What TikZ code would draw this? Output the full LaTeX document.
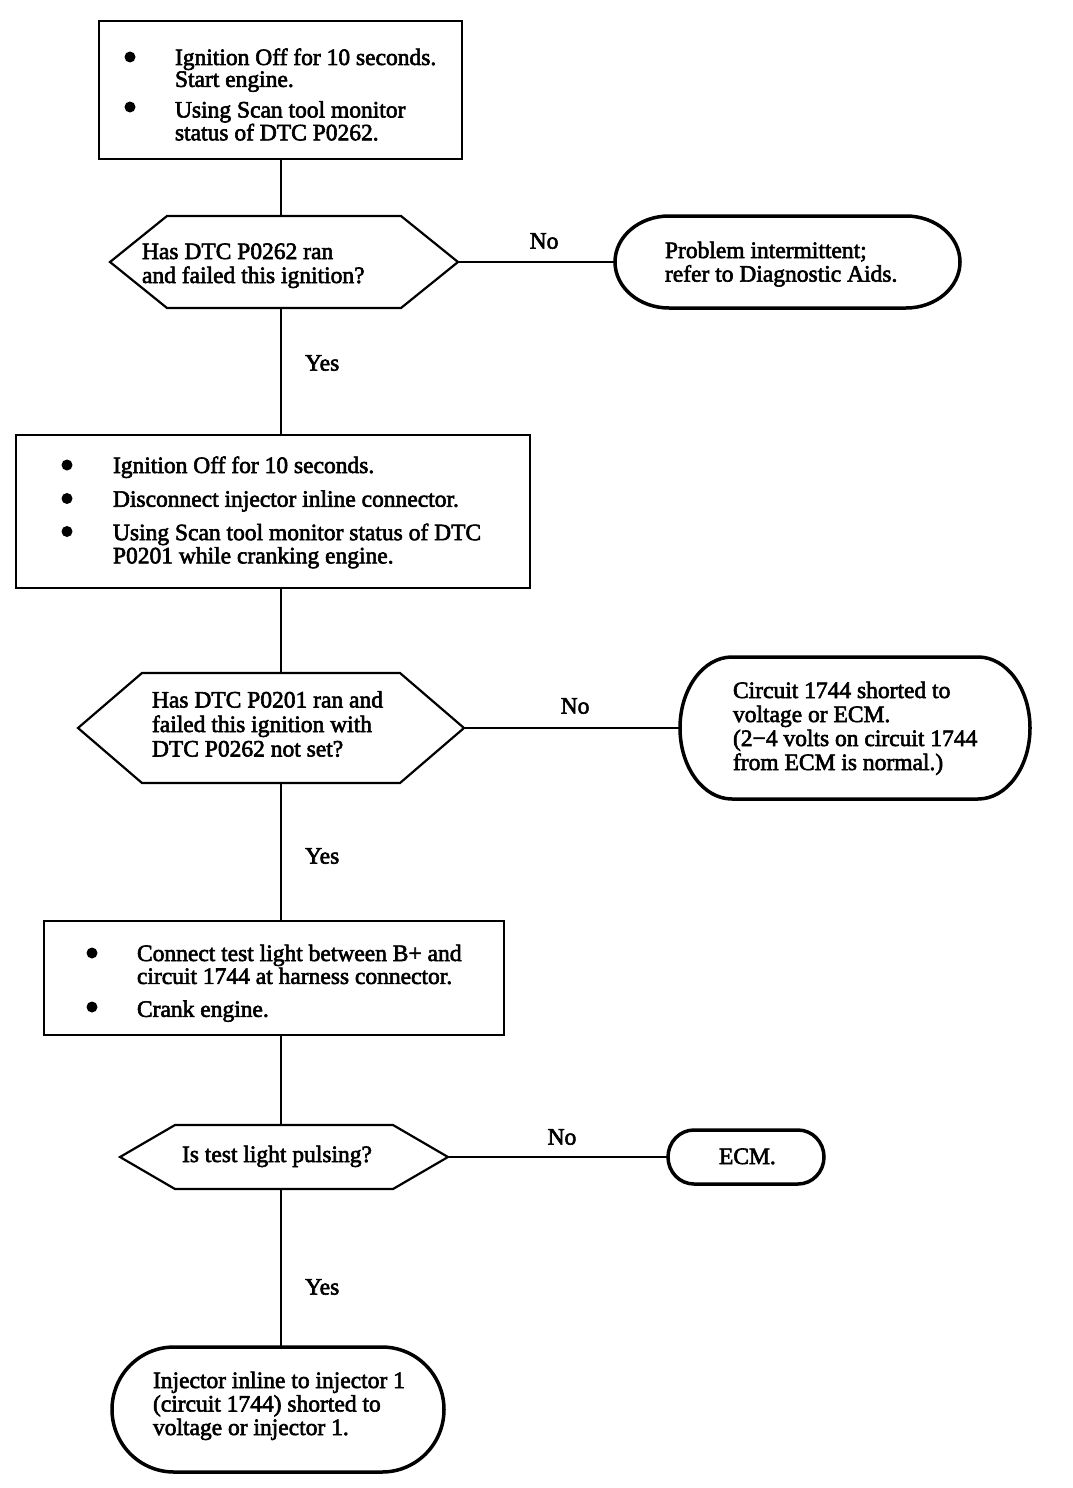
\documentclass[tikz,border=0pt]{standalone}
\usepackage{fontspec}
\setmainfont{Liberation Serif}[FakeBold=2.5]
\usetikzlibrary{calc}
\newcommand\ftxt[5]{\makebox[#1pt][l]{\hspace*{#2pt}\raisebox{#3pt}[0pt][0pt]{\fontsize{23.5}{#4}\selectfont\begin{tabular}[t]{@{}l@{}}#5\end{tabular}}}}
\newcommand\drawhex[2]{\draw[decline] (#1.west) -- ([xshift=#2pt]#1.north west) -- ([xshift=-#2pt]#1.north east) -- (#1.east) -- ([xshift=-#2pt]#1.south east) -- ([xshift=#2pt]#1.south west) -- cycle;}
\newcommand\drawterm[3]{\draw[termline] ([xshift=#2pt]#1.north west) -- ([xshift=-#2pt]#1.north east) arc[start angle=90, end angle=-90, x radius=#2pt, y radius=#3pt] -- ([xshift=#2pt]#1.south west) arc[start angle=270, end angle=90, x radius=#2pt, y radius=#3pt] -- cycle;}
\tikzset{
  shapebase/.style={rectangle, inner sep=0pt, outer sep=0pt, font=\fontsize{23.5}{24}\selectfont},
  procbox/.style={shapebase, draw, line width=2.2pt},
  decbox/.style={shapebase},
  termbox/.style={shapebase},
  decline/.style={line width=2.2pt, line join=miter},
  termline/.style={line width=3.5pt},
  conn/.style={line width=2.2pt},
  dot/.style={circle, fill, inner sep=0pt, minimum size=11pt},
  lab/.style={inner sep=0pt, font=\fontsize{23.5}{24}\selectfont},
}
\begin{document}
\begin{tikzpicture}[x=1pt, y=-1pt]
\fill[white] (0,0) rectangle (1072,1488);
\useasboundingbox (0,0) rectangle (1072,1488);

% step 1
\node[procbox, minimum width=363pt, minimum height=138pt] (box1) at (280.5,90)
  {\ftxt{363}{76}{25}{21}{Ignition Off for 10 seconds.\\ Start engine.\\[8pt] Using Scan tool monitor\\ status of DTC P0262.}};
\node[dot] (b1a) at (130,57) {};
\node[dot] (b1b) at (130,107) {};

% decision 1
\node[decbox, minimum width=348pt, minimum height=92pt] (d1) at (284,262)
  {\ftxt{348}{32}{3}{24}{Has DTC P0262 ran\\ and failed this ignition?}};
\drawhex{d1}{57}

\node[termbox, minimum width=345pt, minimum height=92pt] (t1) at (787.5,262)
  {\ftxt{345}{50}{4}{23.5}{Problem intermittent;\\ refer to Diagnostic Aids.}};
\drawterm{t1}{54}{46}

% step 2
\node[procbox, minimum width=514pt, minimum height=153pt] (box2) at (273,511.5)
  {\ftxt{514}{97}{38.5}{23}{Ignition Off for 10 seconds.\\[10.5pt] Disconnect injector inline connector.\\[10pt] Using Scan tool monitor status of DTC\\ P0201 while cranking engine.}};
\node[dot] (b2a) at (67,465) {};
\node[dot] (b2b) at (67,498.5) {};
\node[dot] (b2c) at (67,531.5) {};

% decision 2
\node[decbox, minimum width=386pt, minimum height=110pt] (d2) at (271,728)
  {\ftxt{386}{74}{20.5}{24.5}{Has DTC P0201 ran and\\ failed this ignition with\\ DTC P0262 not set?}};
\drawhex{d2}{64}

\node[termbox, minimum width=350pt, minimum height=142pt] (t2) at (855,728)
  {\ftxt{350}{53}{30}{24}{Circuit 1744 shorted to\\ voltage or ECM.\\ (2−4 volts on circuit 1744\\ from ECM is normal.)}};
\drawterm{t2}{52}{71}

% step 3
\node[procbox, minimum width=460pt, minimum height=114pt] (box3) at (274,978)
  {\ftxt{460}{93}{17}{22}{Connect test light between B+ and\\ circuit 1744 at harness connector.\\[10pt] Crank engine.}};
\node[dot] (b3a) at (92,953) {};
\node[dot] (b3b) at (92,1007) {};

% decision 3
\node[decbox, minimum width=328pt, minimum height=64pt] (d3) at (284,1157)
  {\ftxt{328}{62}{-5}{24}{Is test light pulsing?}};
\drawhex{d3}{55}

\node[termbox, minimum width=156pt, minimum height=54pt] (t3) at (746,1157)
  {\ftxt{156}{51}{-7}{24}{ECM.}};
\drawterm{t3}{26}{27}

\node[termbox, minimum width=332pt, minimum height=125pt] (t4) at (278,1409.5)
  {\ftxt{332}{41}{21.5}{23.5}{Injector inline to injector 1\\ (circuit 1744) shorted to\\ voltage or injector 1.}};
\drawterm{t4}{62}{62.5}

% connectors
\coordinate (spine) at (281,0);
\draw[conn] (spine |- box1.south) -- (spine |- d1.north);
\draw[conn] (spine |- d1.south) -- node[lab, pos=0.433, anchor=west, xshift=23pt] (y1) {Yes} (spine |- box2.north);
\draw[conn] (spine |- box2.south) -- (spine |- d2.north);
\draw[conn] (spine |- d2.south) -- node[lab, pos=0.529, anchor=west, xshift=23pt] (y2) {Yes} (spine |- box3.north);
\draw[conn] (spine |- box3.south) -- (spine |- d3.north);
\draw[conn] (spine |- d3.south) -- node[lab, pos=0.62, anchor=west, xshift=23pt] (y3) {Yes} (spine |- t4.north);

\draw[conn] (d1.east) -- node[lab, pos=0.548, yshift=21pt] (n1) {No} (t1.west);
\draw[conn] (d2.east) -- node[lab, pos=0.514, yshift=22pt] (n2) {No} (t2.west);
\draw[conn] (d3.east) -- node[lab, pos=0.518, yshift=20pt] (n3) {No} (t3.west);
\end{tikzpicture}
\end{document}
